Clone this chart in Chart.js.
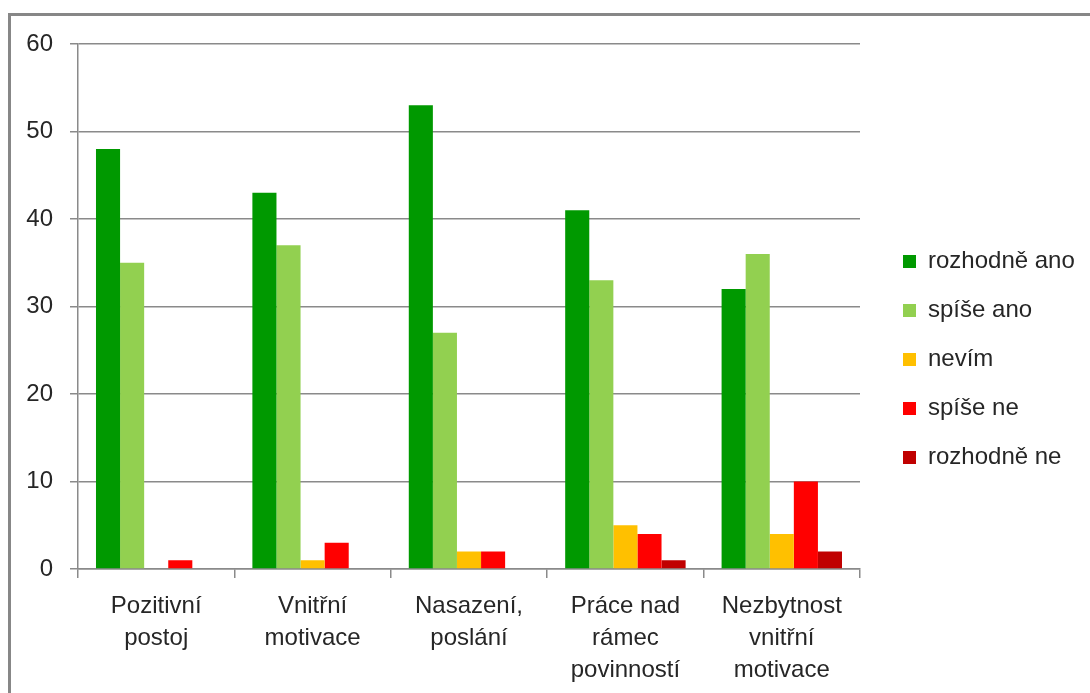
<!DOCTYPE html>
<html lang="cs">
<head>
<meta charset="utf-8">
<title>Motivace</title>
<script src="https://cdn.jsdelivr.net/npm/chart.js@4/dist/chart.umd.min.js"></script>
<style>
  html, body { margin: 0; padding: 0; background: #fff; overflow: hidden; }
  #frame {
    position: absolute; left: 8px; top: 13px; width: 1100px; height: 700px;
    border: 3px solid #878787; box-sizing: border-box;
  }
  #wrap { position: absolute; left: 0; top: 0; width: 1090px; height: 693px; }
</style>
</head>
<body>
<div id="frame"></div>
<div id="wrap"><canvas id="chart" width="1090" height="693"></canvas></div>
<script>
// Categories (multi-line axis labels)
const categories = [
  ["Pozitivní", "postoj"],
  ["Vnitřní", "motivace"],
  ["Nasazení,", "poslání"],
  ["Práce nad", "rámec", "povinností"],
  ["Nezbytnost", "vnitřní", "motivace"]
];

// Series names
const seriesNames = ["rozhodně ano", "spíše ano", "nevím", "spíše ne", "rozhodně ne"];

// Series values
const rozhodneAno = [48, 43, 53, 41, 32];
const spiseAno    = [35, 37, 27, 33, 36];
const nevim       = [0, 1, 2, 5, 4];
const spiseNe     = [1, 3, 2, 4, 10];
const rozhodneNe  = [0, 0, 0, 1, 2];

// Value axis ticks
const yTicks = [0, 10, 20, 30, 40, 50, 60];

const seriesColors = ["#009900", "#92D050", "#FFC000", "#FF0000", "#C00000"];
const seriesValues = [rozhodneAno, spiseAno, nevim, spiseNe, rozhodneNe];

const FONT = "'Liberation Sans', Arial, sans-serif";
const TEXT = "#262626";
const LINE = "#8a8a8a";

// Keeps the legend at a fixed width and nudges it inside its box
const legendPlacement = {
  id: 'legendPlacement',
  beforeLayout(chart) {
    const lg = chart.legend;
    if (lg && !lg._fixedFit) {
      const fit = lg.fit.bind(lg);
      lg.fit = function () { fit(); this.width = 230; };
      lg._fixedFit = true;
    }
  },
  afterLayout(chart) {
    const lg = chart.legend;
    if (lg) {
      lg.left += 18; lg.right += 18;
      lg.top -= 9; lg.bottom -= 9;
    }
  }
};

new Chart(document.getElementById('chart'), {
  type: 'bar',
  data: {
    labels: categories,
    datasets: seriesNames.map((name, i) => ({
      label: name,
      data: seriesValues[i],
      backgroundColor: seriesColors[i],
      borderWidth: 0,
      categoryPercentage: 0.77,
      barPercentage: 1.0
    }))
  },
  options: {
    responsive: false,
    animation: false,
    layout: { padding: { top: 44, left: 0, right: 0, bottom: 0 } },
    plugins: {
      title: { display: false },
      tooltip: { enabled: false },
      legend: {
        position: 'right',
        align: 'center',
        labels: {
          boxWidth: 13,
          boxHeight: 13,
          padding: 25,
          color: TEXT,
          font: { family: FONT, size: 24 }
        }
      }
    },
    scales: {
      x: {
        grid: {
          offset: true,
          drawOnChartArea: false,
          color: LINE,
          lineWidth: 1.5,
          tickLength: 9
        },
        border: { display: true, color: LINE, width: 1.5 },
        ticks: {
          color: TEXT,
          font: { family: FONT, size: 24, lineHeight: 1.333 },
          padding: 12,
          maxRotation: 0,
          autoSkip: false
        },
        afterFit(scale) { scale.height = 124; }
      },
      y: {
        min: 0,
        max: 60,
        afterBuildTicks(scale) { scale.ticks = yTicks.map(v => ({ value: v })); },
        grid: {
          color: LINE,
          lineWidth: 1.5,
          tickLength: 8
        },
        border: { display: true, color: LINE, width: 1.5 },
        ticks: {
          color: TEXT,
          font: { family: FONT, size: 24 },
          padding: 17
        },
        afterFit(scale) { scale.width = 78; }
      }
    }
  },
  plugins: [legendPlacement]
});
</script>
</body>
</html>
